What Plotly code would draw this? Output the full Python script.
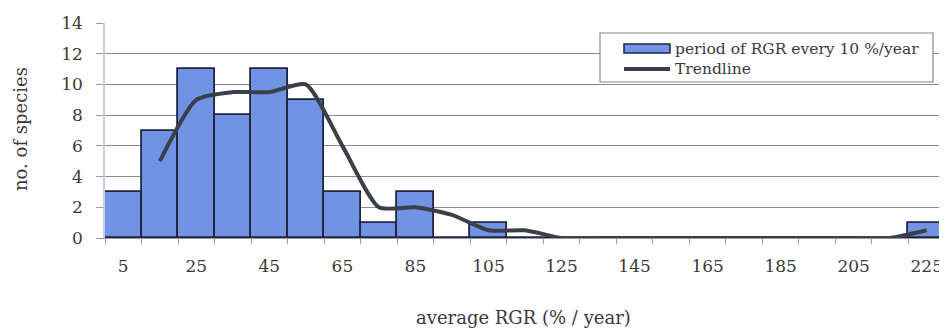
import plotly.graph_objects as go

categories = [5, 15, 25, 35, 45, 55, 65, 75, 85, 95, 105, 115, 125, 135, 145, 155, 165, 175, 185, 195, 205, 215, 225]
species_counts = [3, 7, 11, 8, 11, 9, 3, 1, 3, 0, 1, 0, 0, 0, 0, 0, 0, 0, 0, 0, 0, 0, 1]
trend_x = categories[1:]
trend_values = [5, 9, 9.5, 9.5, 10, 6, 2, 2, 1.5, 0.5, 0.5, 0, 0, 0, 0, 0, 0, 0, 0, 0, 0, 0.5]
tick_labels = [5, 25, 45, 65, 85, 105, 125, 145, 165, 185, 205, 225]
y_ticks = [0, 2, 4, 6, 8, 10, 12, 14]

FONT = "DejaVu Serif"
TXT = "#3a3a3a"
BAR_FILL = "#7193E3"
BAR_LINE = "#1E2540"
TREND = "#3B3F4A"

fig = go.Figure()
fig.add_trace(go.Bar(
    x=categories, y=species_counts, width=10,
    marker=dict(color=BAR_FILL, line=dict(color=BAR_LINE, width=1.8)),
    name="period of RGR every 10 %/year", showlegend=False,
))
fig.add_trace(go.Scatter(
    x=trend_x, y=trend_values, mode="lines",
    line=dict(color=TREND, width=4, shape="spline", smoothing=0.6),
    name="Trendline", showlegend=False,
))

# page has an 8px body margin: figure is sized/offset so the page matches the reference
OFF = 8
W, H = 947 - OFF, 330 - OFF
PL, PR, PT, PB = 105, 945, 23, 238  # plot area in page pixels
L, R, T, B = PL - OFF, (W + OFF) - PR, PT - OFF, (H + OFF) - PB
pw, ph = PR - PL, PB - PT


def px(x):
    return (x - PL) / pw


def py(y):
    return (PB - y) / ph


shapes = [
    dict(type="rect", xref="paper", yref="paper",
         x0=px(600), x1=px(933), y0=py(82), y1=py(33),
         line=dict(color="#888888", width=1.2), fillcolor="white", layer="above"),
    dict(type="rect", xref="paper", yref="paper",
         x0=px(624), x1=px(670), y0=py(53), y1=py(44),
         line=dict(color=BAR_LINE, width=1.5), fillcolor=BAR_FILL, layer="above"),
    dict(type="line", xref="paper", yref="paper",
         x0=px(624), x1=px(670), y0=py(69), y1=py(69),
         line=dict(color=TREND, width=4), layer="above"),
]
annotations = [
    dict(text="period of RGR every 10 %/year", xref="paper", yref="paper",
         x=px(673), y=py(49), xanchor="left", yanchor="middle", showarrow=False,
         font=dict(family=FONT, size=15.5, color=TXT)),
    dict(text="Trendline", xref="paper", yref="paper",
         x=px(673), y=py(69), xanchor="left", yanchor="middle", showarrow=False,
         font=dict(family=FONT, size=15.5, color=TXT)),
    dict(text="average RGR (% / year)", xref="paper", yref="paper",
         x=px(523), y=py(317), xanchor="center", yanchor="middle", showarrow=False,
         font=dict(family=FONT, size=18, color=TXT)),
    dict(text="no. of species", xref="paper", yref="paper",
         x=px(21), y=py(129), xanchor="center", yanchor="middle", showarrow=False,
         textangle=-90, font=dict(family=FONT, size=18, color=TXT)),
]

fig.update_layout(
    width=W, height=H,
    margin=dict(l=L, r=R, t=T, b=B, autoexpand=False),
    plot_bgcolor="white", paper_bgcolor="white",
    bargap=0,
    font=dict(family=FONT, size=17, color=TXT),
    showlegend=False,
    shapes=shapes,
    annotations=annotations,
)
fig.update_xaxes(
    range=[0, 230], tickmode="array", tickvals=tick_labels,
    ticktext=[str(t) for t in tick_labels], ticks="", automargin=False,
    ticklabelstandoff=13,
    tickfont=dict(family=FONT, size=17, color=TXT),
    showgrid=False, zeroline=False,
    showline=True, linecolor="#999999", linewidth=1,
    minor=dict(ticks="outside", tick0=0, dtick=10, ticklen=5, tickcolor="#999999", showgrid=False),
)
fig.update_yaxes(
    range=[0, 14], tickmode="array", tickvals=y_ticks,
    ticks="outside", ticklen=7, tickcolor="#999999", automargin=False,
    ticklabelstandoff=10,
    tickfont=dict(family=FONT, size=17, color=TXT),
    showgrid=True, gridcolor="#8a8a8a", gridwidth=1,
    zeroline=False, showline=True, linecolor="#C8CCE8", linewidth=1.5,
)

fig.write_html("out.html")
